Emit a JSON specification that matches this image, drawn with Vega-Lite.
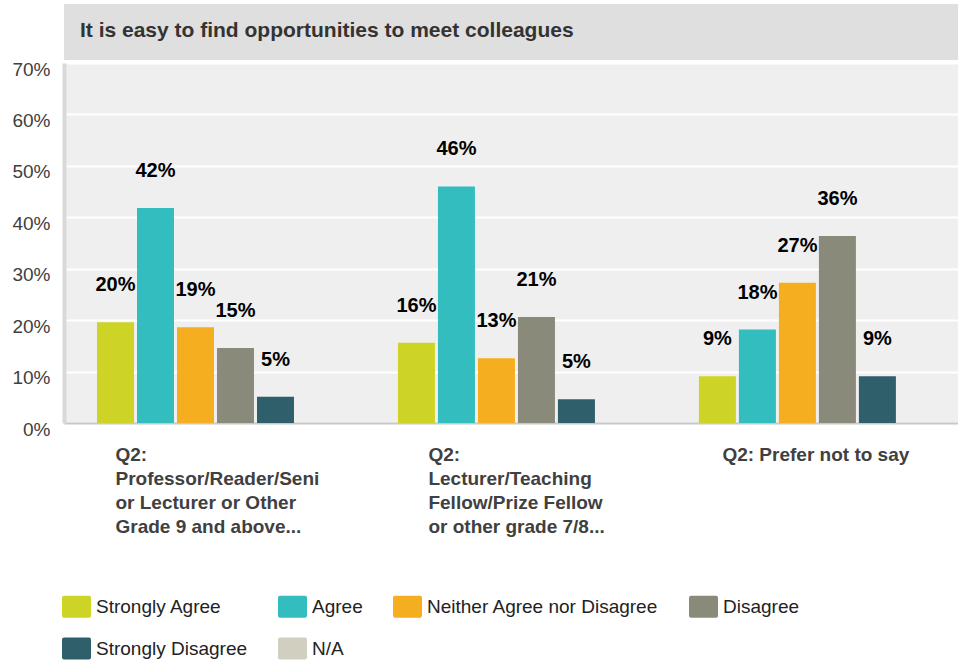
{
  "$schema": "https://vega.github.io/schema/vega-lite/v6.json",
  "padding": {"left": 11, "top": 4, "right": 0, "bottom": 0},
  "background": "white",
  "spacing": 0,
  "config": {"view": {"stroke": null}, "font": "Liberation Sans"},
  "vconcat": [
    {
      "width": 894,
      "height": 56,
      "view": {"fill": "#dfdfdf", "stroke": null},
      "data": {"values": [{"title": "It is easy to find opportunities to meet colleagues"}]},
      "mark": {"type": "text", "align": "left", "baseline": "middle", "font": "Liberation Sans", "fontSize": 21, "fontWeight": "bold", "color": "#333333"},
      "encoding": {"text": {"field": "title"}, "x": {"value": 16}, "y": {"value": 27}}
    },
    {
      "width": 894,
      "height": 360,
      "view": {"fill": "#efefef", "stroke": null},
      "data": {"values": [
        {"group": "Q2:|Professor/Reader/Seni|or Lecturer or Other|Grade 9 and above...", "response": "Strongly Agree", "value": 0.196},
        {"group": "Q2:|Professor/Reader/Seni|or Lecturer or Other|Grade 9 and above...", "response": "Agree", "value": 0.418},
        {"group": "Q2:|Professor/Reader/Seni|or Lecturer or Other|Grade 9 and above...", "response": "Neither Agree nor Disagree", "value": 0.186},
        {"group": "Q2:|Professor/Reader/Seni|or Lecturer or Other|Grade 9 and above...", "response": "Disagree", "value": 0.146},
        {"group": "Q2:|Professor/Reader/Seni|or Lecturer or Other|Grade 9 and above...", "response": "Strongly Disagree", "value": 0.051},
        {"group": "Q2:|Lecturer/Teaching|Fellow/Prize Fellow|or other grade 7/8...", "response": "Strongly Agree", "value": 0.156},
        {"group": "Q2:|Lecturer/Teaching|Fellow/Prize Fellow|or other grade 7/8...", "response": "Agree", "value": 0.46},
        {"group": "Q2:|Lecturer/Teaching|Fellow/Prize Fellow|or other grade 7/8...", "response": "Neither Agree nor Disagree", "value": 0.126},
        {"group": "Q2:|Lecturer/Teaching|Fellow/Prize Fellow|or other grade 7/8...", "response": "Disagree", "value": 0.206},
        {"group": "Q2:|Lecturer/Teaching|Fellow/Prize Fellow|or other grade 7/8...", "response": "Strongly Disagree", "value": 0.046},
        {"group": "Q2: Prefer not to say", "response": "Strongly Agree", "value": 0.0909},
        {"group": "Q2: Prefer not to say", "response": "Agree", "value": 0.1818},
        {"group": "Q2: Prefer not to say", "response": "Neither Agree nor Disagree", "value": 0.2727},
        {"group": "Q2: Prefer not to say", "response": "Disagree", "value": 0.3636},
        {"group": "Q2: Prefer not to say", "response": "Strongly Disagree", "value": 0.0909}
      ]},
      "encoding": {
        "x": {
          "field": "group", "type": "nominal", "sort": null,
          "scale": {
            "domain": ["Q2:|Professor/Reader/Seni|or Lecturer or Other|Grade 9 and above...", "Q2:|Lecturer/Teaching|Fellow/Prize Fellow|or other grade 7/8...", "Q2: Prefer not to say"],
            "paddingInner": 0.3455, "paddingOuter": 0.158, "align": 0.347
          },
          "axis": {
            "title": null,
            "labelExpr": "split(datum.label, '|')",
            "labelAngle": 0,
            "labelAlign": "left",
            "labelBaseline": "top",
            "labelPadding": 22,
            "labelOffset": {"condition": [
              {"test": "indexof(datum.value, 'Professor') >= 0", "value": -80},
              {"test": "indexof(datum.value, 'Teaching') >= 0", "value": -68}
            ], "value": -75},
            "labelLineHeight": 24,
            "labelFont": "Liberation Sans",
            "labelFontSize": 19,
            "labelFontWeight": "bold",
            "labelColor": "#404040",
            "labelLimit": 0,
            "labelOverlap": false,
            "labelBound": false,
            "ticks": false,
            "domainColor": "#c8c8c8",
            "domainWidth": 2
          }
        },
        "xOffset": {
          "field": "response", "type": "nominal",
          "scale": {"domain": ["Strongly Agree", "Agree", "Neither Agree nor Disagree", "Disagree", "Strongly Disagree"], "paddingInner": 0.075}
        },
        "y": {
          "field": "value", "type": "quantitative",
          "scale": {"domain": [0, 0.7], "nice": false},
          "axis": {
            "title": null,
            "format": ".0%",
            "values": [0, 0.1, 0.2, 0.3, 0.4, 0.5, 0.6, 0.7],
            "grid": true,
            "gridColor": "#ffffff",
            "gridWidth": 2,
            "domain": true,
            "domainColor": "#d9d9d9",
            "domainWidth": 4,
            "ticks": false,
            "labelFont": "Liberation Sans",
            "labelFontSize": 19,
            "labelColor": "#404040",
            "labelPadding": 14,
            "labelOffset": 6,
            "labelBaseline": "middle",
            "labelFlush": false,
            "minExtent": 53,
            "maxExtent": 53
          }
        }
      },
      "layer": [
        {
          "mark": {"type": "bar"},
          "encoding": {
            "color": {
              "field": "response", "type": "nominal",
              "scale": {
                "domain": ["Strongly Agree", "Agree", "Neither Agree nor Disagree", "Disagree", "Strongly Disagree", "N/A"],
                "range": ["#ced426", "#33bdbf", "#f5ae1f", "#8a8a7a", "#2f5f6b", "#d0cfc0"]
              },
              "legend": {
                "title": null,
                "orient": "none",
                "legendX": -2,
                "legendY": 588,
                "direction": "horizontal",
                "columns": 4,
                "symbolType": "M-0.86,-0.76H0.86Q1,-0.76 1,-0.62V0.62Q1,0.76 0.86,0.76H-0.86Q-1,0.76 -1,0.62V-0.62Q-1,-0.76 -0.86,-0.76Z",
                "symbolSize": 841,
                "symbolStrokeWidth": 0,
                "symbolOpacity": 1,
                "labelFont": "Liberation Sans",
                "labelFontSize": 19,
                "labelColor": "#222222",
                "labelOffset": 5,
                "labelLimit": 0,
                "columnPadding": 30,
                "rowPadding": 16
              }
            }
          }
        },
        {
          "mark": {"type": "text", "dy": -37, "baseline": "middle", "font": "Liberation Sans", "fontWeight": "bold", "fontSize": 20, "color": "#000000"},
          "encoding": {"text": {"field": "value", "type": "quantitative", "format": ".0%"}}
        }
      ]
    }
  ]
}
